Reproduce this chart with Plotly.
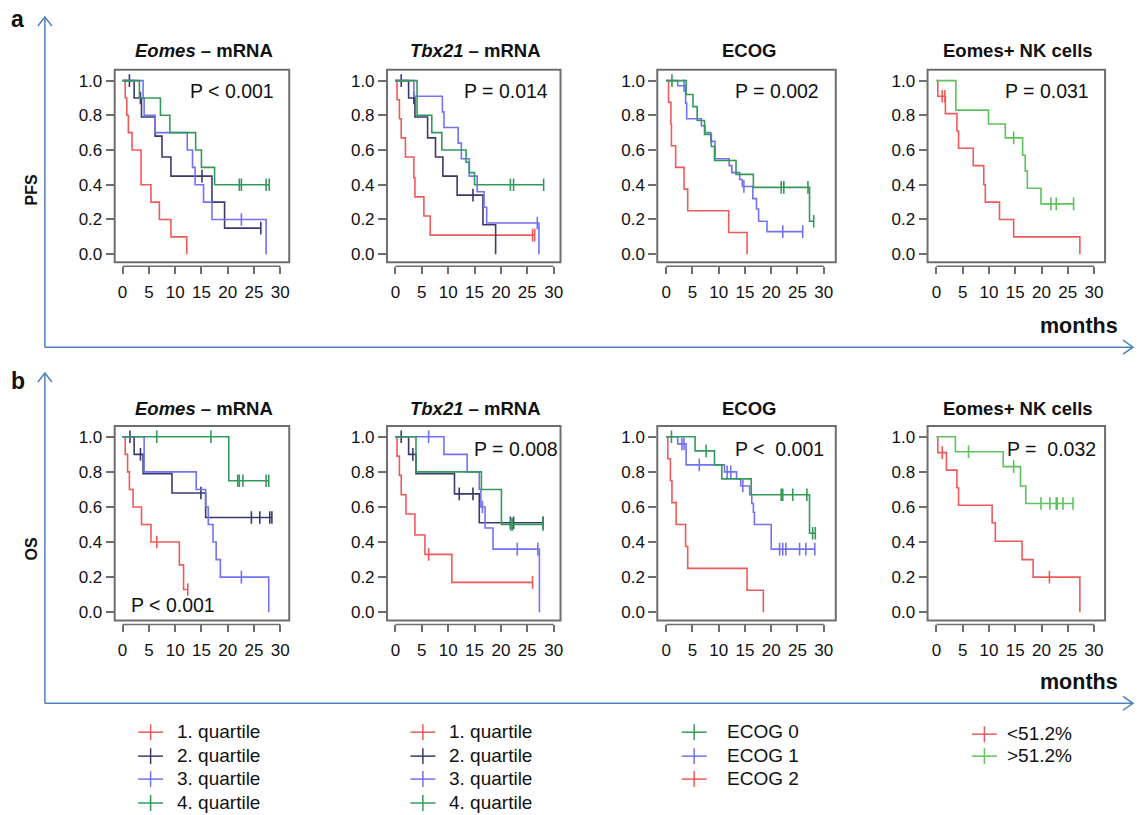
import plotly.graph_objects as go

W, H = 1138, 815
def px(x): return x / W
def py(y): return 1 - y / H

RED = '#ee5a5a'; NAVY = '#3a3a6c'; BLUE = '#7272f4'; GREEN = '#33995a'; LGREEN = '#5cc25c'
BOX = '#6e6e6e'; ARROW = '#4f81bd'; TXT = '#111111'
FONT = 'Liberation Sans, Arial, sans-serif'

# ---------------- data (months, survival after each event, censor times) ----------------
# PFS - Eomes mRNA quartiles
pfs_eomes_q1_t = [0.5, 0.8, 1.1, 1.8, 3.5, 5.4, 7.0, 9.2, 12.2]
pfs_eomes_q1_s = [0.9, 0.8, 0.7, 0.6, 0.4, 0.3, 0.2, 0.1, 0.0]
pfs_eomes_q1_c = []
pfs_eomes_q2_t = [2.2, 3.6, 6.2, 7.5, 9.2, 17.0, 19.4]
pfs_eomes_q2_s = [0.9, 0.79, 0.68, 0.56, 0.45, 0.30, 0.15]
pfs_eomes_q2_c = [1.3, 3.4, 15.1, 26.3]
pfs_eomes_q3_t = [3.9, 4.1, 6.2, 12.3, 13.3, 13.8, 15.4, 17.0, 27.3]
pfs_eomes_q3_s = [0.9, 0.8, 0.7, 0.6, 0.5, 0.4, 0.3, 0.2, 0.0]
pfs_eomes_q3_c = [22.6]
pfs_eomes_q4_t = [3.2, 7.2, 9.0, 13.9, 15.0, 17.5]
pfs_eomes_q4_s = [0.9, 0.8, 0.7, 0.6, 0.5, 0.4]
pfs_eomes_q4_c = [22.2, 22.6, 27.3, 27.9]

# PFS - Tbx21 mRNA quartiles
pfs_tbx_q1_t = [0.3, 0.76, 1.1, 1.9, 3.5, 3.7, 5.4, 6.6]
pfs_tbx_q1_s = [0.89, 0.78, 0.67, 0.56, 0.44, 0.33, 0.22, 0.11]
pfs_tbx_q1_c = [26.0, 26.4]
pfs_tbx_q2_t = [2.5, 3.7, 6.1, 7.6, 9.0, 11.7, 16.6, 19.0]
pfs_tbx_q2_s = [0.9, 0.79, 0.67, 0.56, 0.45, 0.34, 0.17, 0.0]
pfs_tbx_q2_c = [1.1, 3.5, 14.7]
pfs_tbx_q3_t = [3.5, 8.9, 9.2, 11.9, 12.5, 14.0, 15.5, 16.8, 17.3, 27.2]
pfs_tbx_q3_s = [0.91, 0.82, 0.73, 0.64, 0.55, 0.45, 0.36, 0.27, 0.18, 0.0]
pfs_tbx_q3_c = [26.9]
pfs_tbx_q4_t = [4.1, 6.9, 8.8, 13.4, 14.0, 15.0]
pfs_tbx_q4_s = [0.8, 0.7, 0.6, 0.53, 0.47, 0.4]
pfs_tbx_q4_c = [21.8, 22.4, 28.1]

# PFS - ECOG
pfs_ecog0_t = [3.8, 5.1, 5.9, 7.3, 8.6, 9.2, 13.3, 16.6, 27.3]
pfs_ecog0_s = [0.92, 0.85, 0.77, 0.69, 0.62, 0.54, 0.46, 0.385, 0.19]
pfs_ecog0_c = [1.1, 21.9, 22.4, 27.0, 28.1]
pfs_ecog1_t = [2.2, 3.7, 3.9, 6.7, 7.4, 8.5, 9.3, 12.0, 12.5, 14.0, 14.5, 16.5, 17.2, 17.6, 19.2]
pfs_ecog1_s = [0.97, 0.87, 0.78, 0.74, 0.70, 0.65, 0.55, 0.51, 0.47, 0.43, 0.39, 0.32, 0.26, 0.19, 0.13]
pfs_ecog1_c = [3.4, 14.8, 22.2, 26.0]
pfs_ecog2_t = [0.45, 0.9, 1.0, 1.8, 3.4, 4.1, 11.9, 15.4]
pfs_ecog2_s = [0.875, 0.75, 0.625, 0.5, 0.375, 0.25, 0.125, 0.0]
pfs_ecog2_c = []

# PFS - Eomes+ NK cells
pfs_nk_low_t = [0.25, 1.7, 3.9, 4.2, 7.0, 9.0, 9.3, 12.0, 14.7, 27.3]
pfs_nk_low_s = [0.91, 0.81, 0.71, 0.61, 0.51, 0.40, 0.30, 0.20, 0.10, 0.0]
pfs_nk_low_c = [1.1, 1.6]
pfs_nk_high_t = [3.7, 9.9, 13.1, 16.4, 16.9, 17.3, 19.9]
pfs_nk_high_s = [0.83, 0.75, 0.67, 0.57, 0.48, 0.38, 0.29]
pfs_nk_high_c = [14.7, 21.8, 22.8, 26.1]

# OS - Eomes mRNA quartiles
os_eomes_q1_t = [0.5, 0.95, 1.3, 2.0, 3.6, 5.4, 10.8, 11.6]
os_eomes_q1_s = [0.9, 0.8, 0.7, 0.6, 0.5, 0.4, 0.27, 0.13]
os_eomes_q1_c = [6.5, 12.4]
os_eomes_q2_t = [2.2, 3.9, 9.4, 15.8]
os_eomes_q2_s = [0.9, 0.79, 0.68, 0.54]
os_eomes_q2_c = [1.4, 3.4, 14.9, 24.5, 26.1, 28.0, 28.4]
os_eomes_q3_t = [4.1, 14.0, 15.8, 16.3, 17.2, 17.8, 18.6, 27.8]
os_eomes_q3_s = [0.8, 0.7, 0.6, 0.5, 0.4, 0.3, 0.2, 0.0]
os_eomes_q3_c = [22.6]
os_eomes_q4_t = [20.2]
os_eomes_q4_s = [0.75]
os_eomes_q4_c = [6.5, 16.8, 21.9, 22.2, 22.9, 27.3, 27.8]

# OS - Tbx21 mRNA quartiles
os_tbx_q1_t = [0.3, 0.76, 1.1, 2.0, 3.7, 5.6, 10.7]
os_tbx_q1_s = [0.89, 0.78, 0.67, 0.56, 0.44, 0.33, 0.17]
os_tbx_q1_c = [6.3, 26.0]
os_tbx_q2_t = [2.5, 3.9, 11.2, 15.9]
os_tbx_q2_s = [0.9, 0.79, 0.675, 0.51]
os_tbx_q2_c = [1.1, 3.3, 12.1, 14.7, 21.8, 22.4, 28.0]
os_tbx_q3_t = [9.2, 13.6, 15.9, 16.2, 17.0, 18.5, 27.3]
os_tbx_q3_s = [0.9, 0.8, 0.7, 0.6, 0.48, 0.36, 0.0]
os_tbx_q3_c = [6.3, 16.5, 23.1, 27.0]
os_tbx_q4_t = [3.9, 16.3, 20.1]
os_tbx_q4_s = [0.8, 0.7, 0.5]
os_tbx_q4_c = [21.9, 22.2, 28.0]

# OS - ECOG
os_ecog0_t = [5.5, 9.2, 10.6, 16.2, 27.3]
os_ecog0_s = [0.92, 0.84, 0.76, 0.67, 0.45]
os_ecog0_c = [1.0, 7.6, 21.9, 22.2, 24.1, 26.8, 27.9, 28.4]
os_ecog1_t = [2.2, 3.8, 11.1, 13.4, 14.2, 15.9, 16.3, 16.6, 16.8, 20.0]
os_ecog1_s = [0.96, 0.84, 0.80, 0.76, 0.72, 0.67, 0.62, 0.57, 0.50, 0.36]
os_ecog1_c = [3.0, 3.4, 6.3, 11.6, 12.3, 14.6, 21.6, 22.2, 22.8, 25.4, 26.6, 28.3]
os_ecog2_t = [0.3, 0.8, 1.1, 1.9, 3.7, 4.1, 15.4, 18.5]
os_ecog2_s = [0.875, 0.75, 0.625, 0.5, 0.375, 0.25, 0.125, 0.0]
os_ecog2_c = []

# OS - Eomes+ NK cells
os_nk_low_t = [0.25, 1.9, 3.9, 4.2, 10.6, 11.2, 16.3, 18.4, 27.3]
os_nk_low_s = [0.91, 0.81, 0.71, 0.61, 0.51, 0.405, 0.30, 0.20, 0.0]
os_nk_low_c = [1.1, 21.5]
os_nk_high_t = [3.6, 12.7, 16.0, 17.0]
os_nk_high_s = [0.915, 0.83, 0.72, 0.62]
os_nk_high_c = [6.1, 14.7, 19.9, 21.6, 22.8, 23.0, 24.1, 26.0]

panel_titles = ['<i>Eomes</i> – mRNA', '<i>Tbx21</i> – mRNA', 'ECOG', 'Eomes+ NK cells']
pfs_pvalues = ['P < 0.001', 'P = 0.014', 'P = 0.002', 'P = 0.031']
os_pvalues = ['P < 0.001', 'P = 0.008', 'P <\u00a0 0.001', 'P =\u00a0 0.032']
x_ticks = [0, 5, 10, 15, 20, 25, 30]
y_ticks = [0.0, 0.2, 0.4, 0.6, 0.8, 1.0]
y_ticktext = ['0.0', '0.2', '0.4', '0.6', '0.8', '1.0']

quartile_labels = ['1. quartile', '2. quartile', '3. quartile', '4. quartile']
ecog_labels = ['ECOG 0', 'ECOG 1', 'ECOG 2']
nk_labels = ['<51.2%', '>51.2%']

# ---------------- layout geometry (pixels) ----------------
col_box = [(115, 290), (388, 562), (659, 838), (930, 1108)]
col_xrange = [(-1.5, 31.7), (-1.6, 31.3), (-1.7, 32.3), (-1.7, 32.1)]
row_box = [(70, 263), (427, 622)]
y_range = (-0.047, 1.062)

panels = [
    [(pfs_eomes_q1_t, pfs_eomes_q1_s, pfs_eomes_q1_c, RED),
     (pfs_eomes_q2_t, pfs_eomes_q2_s, pfs_eomes_q2_c, NAVY),
     (pfs_eomes_q3_t, pfs_eomes_q3_s, pfs_eomes_q3_c, BLUE),
     (pfs_eomes_q4_t, pfs_eomes_q4_s, pfs_eomes_q4_c, GREEN)],
    [(pfs_tbx_q1_t, pfs_tbx_q1_s, pfs_tbx_q1_c, RED),
     (pfs_tbx_q2_t, pfs_tbx_q2_s, pfs_tbx_q2_c, NAVY),
     (pfs_tbx_q3_t, pfs_tbx_q3_s, pfs_tbx_q3_c, BLUE),
     (pfs_tbx_q4_t, pfs_tbx_q4_s, pfs_tbx_q4_c, GREEN)],
    [(pfs_ecog2_t, pfs_ecog2_s, pfs_ecog2_c, RED),
     (pfs_ecog1_t, pfs_ecog1_s, pfs_ecog1_c, BLUE),
     (pfs_ecog0_t, pfs_ecog0_s, pfs_ecog0_c, GREEN)],
    [(pfs_nk_low_t, pfs_nk_low_s, pfs_nk_low_c, RED),
     (pfs_nk_high_t, pfs_nk_high_s, pfs_nk_high_c, LGREEN)],
    [(os_eomes_q1_t, os_eomes_q1_s, os_eomes_q1_c, RED),
     (os_eomes_q2_t, os_eomes_q2_s, os_eomes_q2_c, NAVY),
     (os_eomes_q3_t, os_eomes_q3_s, os_eomes_q3_c, BLUE),
     (os_eomes_q4_t, os_eomes_q4_s, os_eomes_q4_c, GREEN)],
    [(os_tbx_q1_t, os_tbx_q1_s, os_tbx_q1_c, RED),
     (os_tbx_q2_t, os_tbx_q2_s, os_tbx_q2_c, NAVY),
     (os_tbx_q3_t, os_tbx_q3_s, os_tbx_q3_c, BLUE),
     (os_tbx_q4_t, os_tbx_q4_s, os_tbx_q4_c, GREEN)],
    [(os_ecog2_t, os_ecog2_s, os_ecog2_c, RED),
     (os_ecog1_t, os_ecog1_s, os_ecog1_c, BLUE),
     (os_ecog0_t, os_ecog0_s, os_ecog0_c, GREEN)],
    [(os_nk_low_t, os_nk_low_s, os_nk_low_c, RED),
     (os_nk_high_t, os_nk_high_s, os_nk_high_c, LGREEN)],
]


def surv_at(ts, ss, x):
    v = 1.0
    for t, s in zip(ts, ss):
        if t <= x:
            v = s
    return v


fig = go.Figure()
shapes = []
annotations = []
layout_axes = {}

for k, curves in enumerate(panels):
    row, col = divmod(k, 4)
    xn = 'x' if k == 0 else f'x{k+1}'
    yn = 'y' if k == 0 else f'y{k+1}'
    xl = 'xaxis' if k == 0 else f'xaxis{k+1}'
    yl = 'yaxis' if k == 0 else f'yaxis{k+1}'
    L, R = col_box[col]
    T, B = row_box[row]
    r0, r1 = col_xrange[col]
    layout_axes[xl] = dict(
        domain=[px(L), px(R)], range=[r0, r1], anchor='free', position=py(B + 4),
        showline=False, showgrid=False, zeroline=False,
        ticks='outside', ticklen=7, tickwidth=1.5, tickcolor=BOX,
        tickvals=x_ticks, tickfont=dict(family=FONT, size=17, color=TXT),
        ticklabelstandoff=3, fixedrange=True)
    layout_axes[yl] = dict(
        domain=[py(B), py(T)], range=list(y_range), anchor=xn,
        showline=False, showgrid=False, zeroline=False,
        ticks='outside', ticklen=8, tickwidth=1.5, tickcolor=BOX,
        tickvals=y_ticks, ticktext=y_ticktext,
        tickfont=dict(family=FONT, size=17, color=TXT), fixedrange=True)
    # box
    shapes.append(dict(type='rect', xref=f'{xn} domain', yref=f'{yn} domain',
                       x0=0, x1=1, y0=0, y1=1, line=dict(color=BOX, width=2), layer='above'))
    # R-style axis line under the box (from first to last tick)
    fx = lambda v: px(L) + (v - r0) / (r1 - r0) * (px(R) - px(L))
    shapes.append(dict(type='line', xref='paper', yref='paper',
                       x0=fx(x_ticks[0]), x1=fx(x_ticks[-1]), y0=py(B + 4), y1=py(B + 4),
                       line=dict(color=BOX, width=1.5)))
    for ts, ss, cs, color in curves:
        end = max([ts[-1]] + list(cs))
        xs = [0.0] + list(ts) + [end]
        ys = [1.0] + list(ss) + [ss[-1]]
        fig.add_trace(go.Scatter(x=xs, y=ys, mode='lines', line=dict(color=color, width=1.6, shape='hv'),
                                 xaxis=xn, yaxis=yn, showlegend=False, hoverinfo='skip'))
        if cs:
            fig.add_trace(go.Scatter(x=list(cs), y=[surv_at(ts, ss, c) for c in cs], mode='markers',
                                     marker=dict(symbol='line-ns-open', size=9, color=color,
                                                 line=dict(color=color, width=1.6)),
                                     xaxis=xn, yaxis=yn, showlegend=False, hoverinfo='skip'))

# titles
for row, ty in enumerate([51, 410]):
    for col in range(4):
        L, R = col_box[col]
        annotations.append(dict(x=px((L + R) / 2 + 2), y=py(ty), xref='paper', yref='paper',
                                text=f'<b>{panel_titles[col]}</b>', showarrow=False,
                                font=dict(family=FONT, size=18.5, color=TXT),
                                xanchor='center', yanchor='middle'))

# p-values
pv_pos_pfs = [(277, 91), (551, 91), (823, 91), (1094, 91)]
for (x, y), t in zip(pv_pos_pfs, pfs_pvalues):
    annotations.append(dict(x=px(x), y=py(y), xref='paper', yref='paper', text=t, showarrow=False,
                            font=dict(family=FONT, size=19.5, color=TXT), xanchor='right', yanchor='middle'))
pv_pos_os = [(129, 606, 'left'), (561, 450, 'right'), (828, 450, 'right'), (1101, 450, 'right')]
for (x, y, anc), t in zip(pv_pos_os, os_pvalues):
    annotations.append(dict(x=px(x), y=py(y), xref='paper', yref='paper', text=t, showarrow=False,
                            font=dict(family=FONT, size=19.5, color=TXT), xanchor=anc, yanchor='middle'))

# big blue arrows & labels
for (ytop, yax, lab, ylab, side, yside, ymonths) in [(17, 348, 'a', 19, 'PFS', 190, 327),
                                                     (374, 705, 'b', 382, 'OS', 550, 684)]:
    shapes.append(dict(type='line', xref='paper', yref='paper', x0=px(45), x1=px(45),
                       y0=py(yax), y1=py(ytop), line=dict(color=ARROW, width=1.5)))
    shapes.append(dict(type='line', xref='paper', yref='paper', x0=px(45), x1=px(1136),
                       y0=py(yax), y1=py(yax), line=dict(color=ARROW, width=1.5)))
    shapes.append(dict(type='path', xref='paper', yref='paper',
                       path=f'M {px(38)} {py(ytop + 9)} L {px(45)} {py(ytop)} L {px(52)} {py(ytop + 9)}',
                       line=dict(color=ARROW, width=1.5)))
    shapes.append(dict(type='path', xref='paper', yref='paper',
                       path=f'M {px(1126)} {py(yax - 7)} L {px(1136)} {py(yax)} L {px(1126)} {py(yax + 7)}',
                       line=dict(color=ARROW, width=1.5)))
    annotations.append(dict(x=px(18), y=py(ylab), xref='paper', yref='paper', text=f'<b>{lab}</b>',
                            showarrow=False, font=dict(family=FONT, size=23, color=TXT),
                            xanchor='center', yanchor='middle'))
    annotations.append(dict(x=px(32), y=py(yside), xref='paper', yref='paper', text=f'<b>{side}</b>',
                            showarrow=False, textangle=-90, font=dict(family=FONT, size=16, color=TXT),
                            xanchor='center', yanchor='middle'))
    annotations.append(dict(x=px(1082), y=py(ymonths), xref='paper', yref='paper', text='<b>months</b>',
                            showarrow=False, font=dict(family=FONT, size=21.5, color=TXT),
                            xanchor='center', yanchor='middle'))

# legends
legend_groups = [
    (151, 175, [733, 757, 780, 804], quartile_labels, [RED, NAVY, BLUE, GREEN]),
    (424, 448, [733, 757, 780, 804], quartile_labels, [RED, NAVY, BLUE, GREEN]),
    (696, 727, [733, 757, 780], ecog_labels, [GREEN, BLUE, RED]),
    (987, 1008, [735, 757], nk_labels, [RED, LGREEN]),
]
for cx, tx, ys, labels, colors in legend_groups:
    for yy, lab, c in zip(ys, labels, colors):
        shapes.append(dict(type='line', xref='paper', yref='paper', x0=px(cx - 12.5), x1=px(cx + 12.5),
                           y0=py(yy + 1), y1=py(yy + 1), line=dict(color=c, width=1.5)))
        shapes.append(dict(type='line', xref='paper', yref='paper', x0=px(cx), x1=px(cx),
                           y0=py(yy - 7), y1=py(yy + 9), line=dict(color=c, width=1.5)))
        annotations.append(dict(x=px(tx), y=py(yy), xref='paper', yref='paper', text=lab,
                                showarrow=False, font=dict(family=FONT, size=19, color=TXT),
                                xanchor='left', yanchor='middle'))

fig.update_layout(width=W, height=H, margin=dict(l=0, r=0, t=0, b=0),
                  paper_bgcolor='white', plot_bgcolor='white',
                  shapes=shapes, annotations=annotations, showlegend=False,
                  font=dict(family=FONT), **layout_axes)

fig.write_html("out.html", config={'displayModeBar': False},
               post_script="document.body.style.margin='0';")
